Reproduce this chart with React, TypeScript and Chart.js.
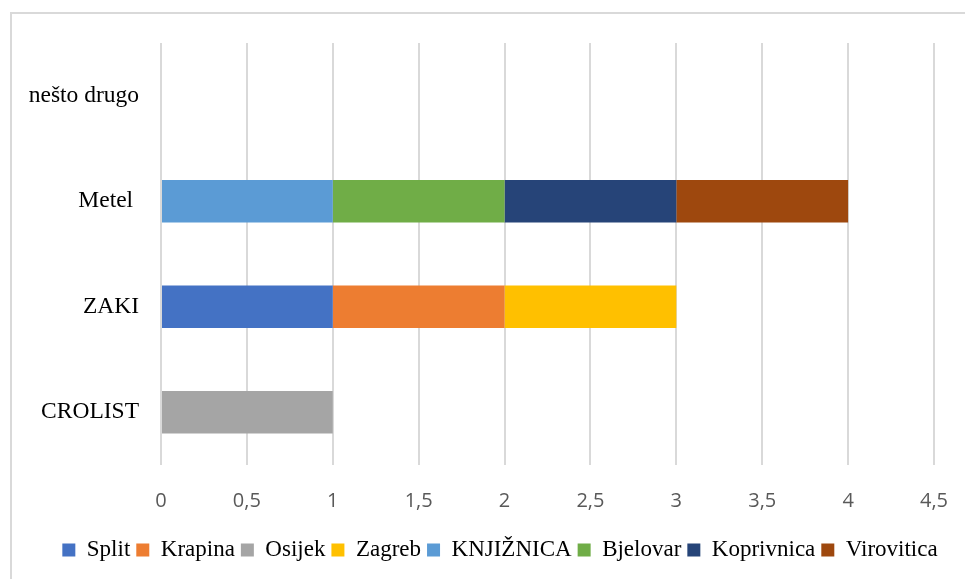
import React, { useEffect, useRef } from "react";
import { Chart, registerables } from "chart.js";

Chart.register(...registerables);

const categories = ["nešto drugo", "Metel ", "ZAKI", "CROLIST"];
const seriesNames = ["Split", "Krapina", "Osijek", "Zagreb", "KNJIŽNICA", "Bjelovar", "Koprivnica", "Virovitica"];
const split = [null, null, 1, null];
const krapina = [null, null, 1, null];
const osijek = [null, null, null, 1];
const zagreb = [null, null, 1, null];
const knjiznica = [null, 1, null, null];
const bjelovar = [null, 1, null, null];
const koprivnica = [null, 1, null, null];
const virovitica = [null, 1, null, null];
const seriesColors = ["#4472C4", "#ED7D31", "#A5A5A5", "#FFC000", "#5B9BD5", "#70AD47", "#264478", "#9E480E"];
const xTicks = [0, 0.5, 1, 1.5, 2, 2.5, 3, 3.5, 4, 4.5];

const seriesValues = [split, krapina, osijek, zagreb, knjiznica, bjelovar, koprivnica, virovitica];

const framePlugin = {
  id: "frame",
  beforeDraw(chart: any) {
    const ctx = chart.ctx;
    ctx.save();
    ctx.fillStyle = "#ffffff";
    ctx.fillRect(0, 0, chart.width, chart.height);
    ctx.strokeStyle = "#d9d9d9";
    ctx.lineWidth = 2;
    ctx.beginPath();
    ctx.moveTo(11, chart.height + 2);
    ctx.lineTo(11, 13);
    ctx.lineTo(chart.width + 2, 13);
    ctx.stroke();
    ctx.restore();
  },
};

export default function App() {
  const ref = useRef<HTMLCanvasElement | null>(null);
  useEffect(() => {
    if (!ref.current) return;
    const chart = new Chart(ref.current, {
      type: "bar",
      data: {
        labels: categories,
        datasets: seriesNames.map((name, i) => ({
          label: name,
          data: seriesValues[i] as any,
          backgroundColor: seriesColors[i],
          borderWidth: 0,
          categoryPercentage: 0.5,
          barPercentage: 0.81,
        })),
      },
      options: {
        indexAxis: "y",
        animation: false,
        responsive: false,
        layout: { padding: { left: 35, right: 0, top: 43, bottom: 7.5 } },
        plugins: {
          legend: {
            position: "bottom",
            labels: {
              font: { family: "'Liberation Serif', 'Times New Roman', serif", size: 23 },
              color: "#000000",
              boxWidth: 13,
              boxHeight: 13,
              padding: 6,
            },
          },
          tooltip: { enabled: false },
        },
        scales: {
          x: {
            stacked: true,
            min: 0,
            max: 4.5,
            afterBuildTicks(scale: any) {
              scale.ticks = xTicks.map((v) => ({ value: v }));
            },
            afterFit(scale: any) {
              scale.height = 67.5;
              scale.paddingLeft = 0;
              scale.paddingRight = 0;
            },
            grid: { color: "#d9d9d9", lineWidth: 2, drawTicks: false },
            border: { display: false },
            ticks: {
              padding: 24,
              color: "#595959",
              font: { family: "'Open Sans', sans-serif", size: 20 },
              callback: (v: any) => String(v).replace(".", ","),
            },
          },
          y: {
            stacked: true,
            afterFit(scale: any) {
              scale.width = 126;
              scale._computeLabelArea = () => undefined;
            },
            grid: { display: false, drawTicks: false },
            border: { display: false },
            ticks: {
              padding: 22,
              color: "#000000",
              font: { family: "'Liberation Serif', 'Times New Roman', serif", size: 23.5 },
            },
          },
          yRight: {
            type: "linear",
            position: "right",
            display: true,
            afterFit(scale: any) {
              scale.width = 31;
            },
            grid: { display: false, drawTicks: false },
            border: { display: false },
            ticks: { display: false },
          },
        },
      } as any,
      plugins: [framePlugin],
    });
    return () => chart.destroy();
  }, []);
  return (
    <div style={{ position: "absolute", left: 0, top: 0, width: 965, height: 579 }}>
      <canvas ref={ref} width={965} height={579} style={{ display: "block" }} />
    </div>
  );
}
